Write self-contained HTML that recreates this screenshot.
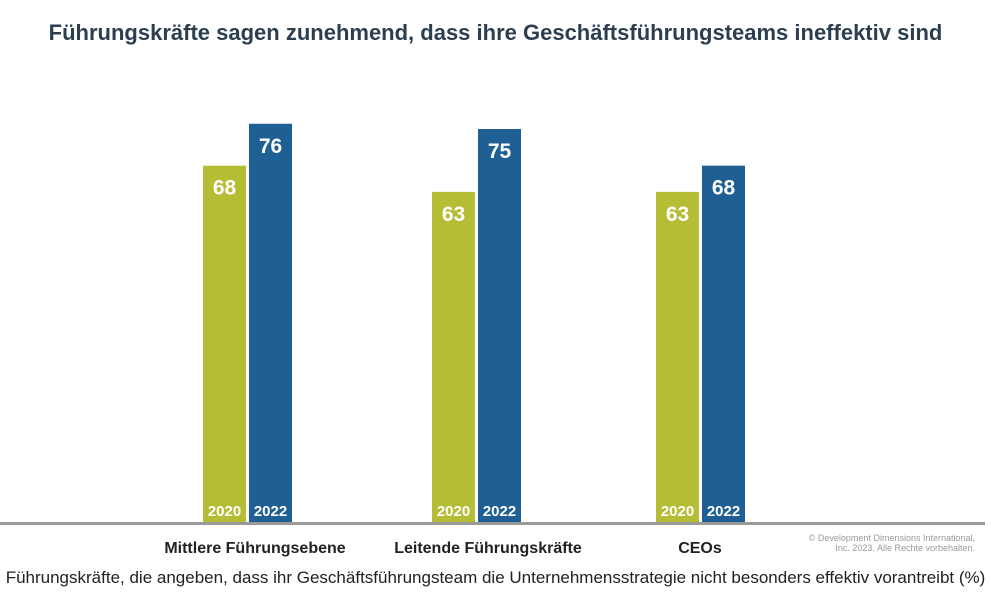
<!DOCTYPE html>
<html><head><meta charset="utf-8"><style>
body{margin:0;width:991px;height:600px;background:#fff;overflow:hidden;font-family:"Liberation Sans",Arial,sans-serif;position:relative}
.t{position:absolute;white-space:nowrap}
</style></head><body>
<div class="t" style="left:0;width:991px;text-align:center;top:20px;font-size:22px;font-weight:bold;color:#2c3e50">Führungskräfte sagen zunehmend, dass ihre Geschäftsführungsteams ineffektiv sind</div>
<svg id="c" width="991" height="600" style="position:absolute;left:0;top:0"></svg>
<div class="t" style="right:16px;top:533px;font-size:9px;color:#999;text-align:right;line-height:10px">© Development Dimensions International,<br>Inc. 2023. Alle Rechte vorbehalten.</div>
<div class="t" style="left:0;width:991px;text-align:center;top:568px;font-size:17px;color:#222">Führungskräfte, die angeben, dass ihr Geschäftsführungsteam die Unternehmensstrategie nicht besonders effektiv vorantreibt (%)</div>
<script>
const categories=["Mittlere Führungsebene","Leitende Führungskräfte","CEOs"];
const series2020=[68,63,63];
const series2022=[76,75,68];
const yearLabels=["2020","2022"];
const svg=document.getElementById('c');
const NS='http://www.w3.org/2000/svg';
const base=522, scale=5.24;
function y(v){return base-v*scale;}
const centers=[247,476,700];
function mk(tag,attrs,txt){const e=document.createElementNS(NS,tag);for(const k in attrs)e.setAttribute(k,attrs[k]);if(txt!==undefined)e.textContent=txt;svg.appendChild(e);return e;}
const cols=["#b5bd35","#1f5f93"];
categories.forEach((c,i)=>{
  [series2020[i],series2022[i]].forEach((v,j)=>{
    const x=centers[i]+(j===0?-44:2);
    const r=mk('rect',{x:x,y:y(v),width:43,height:base-y(v),fill:cols[j]});
    
    
    const t=mk('text',{x:x+21.5,y:y(v)+29,'text-anchor':'middle','font-size':21,'font-weight':'bold',fill:'#fff','font-family':'Liberation Sans'},v);
    
    
    const yl=mk('text',{x:x+21.5,y:base-6,'text-anchor':'middle','font-size':15,'font-weight':'bold',fill:'#fff','font-family':'Liberation Sans'},yearLabels[j]);
    
    
  });
  const cl=mk('text',{x:[255,488,700][i],y:553,'text-anchor':'middle','font-size':16,'font-weight':'bold',fill:'#222','font-family':'Liberation Sans'},c);
  
  
});
const ax=mk('line',{x1:0,x2:985,y1:base+1.5,y2:base+1.5,stroke:'#999','stroke-width':3});


</script>
</body></html>
